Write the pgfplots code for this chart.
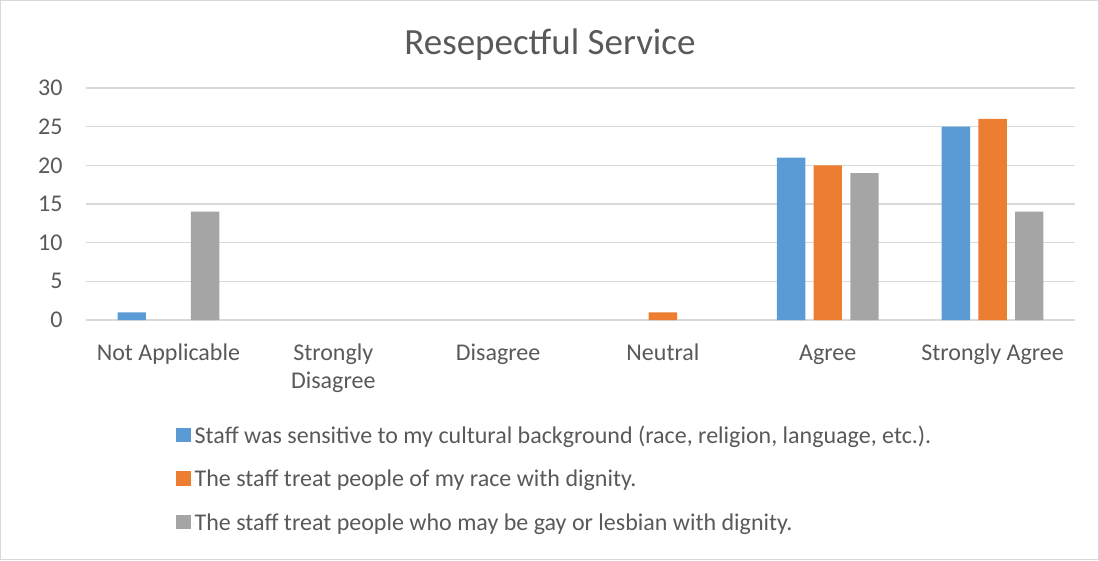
\documentclass[border=0pt]{standalone}
\usepackage{fontspec}
\setmainfont{Carlito}
\usepackage{pgfplots}
\pgfplotsset{compat=1.18}
\definecolor{cblue}{HTML}{5B9BD5}
\definecolor{corange}{HTML}{ED7D31}
\definecolor{cgray}{HTML}{A5A5A5}
\definecolor{gridc}{HTML}{D9D9D9}
\definecolor{txt}{HTML}{595959}
\definecolor{framec}{HTML}{D9D9D9}
\begin{document}
\begin{tikzpicture}
\draw[framec, line width=1pt, use as bounding box] (0.5pt,0.5pt) rectangle (1098.5pt,559.5pt);
\node[txt, font=\fontsize{37}{42}\selectfont] at (550pt,515pt) {Resepectful Service};
\begin{axis}[
  at={(86pt,240pt)}, anchor=south west,
  scale only axis, width=989pt, height=232pt,
  ybar=8.3pt, bar width=28.4pt,
  xmin=-0.5, xmax=5.5, ymin=0, ymax=30,
  ytick={0,5,...,30},
  xtick={0,1,2,3,4,5},
  xticklabels={\strut Not Applicable, \strut Strongly\\\strut Disagree, \strut Disagree, \strut Neutral, \strut Agree, \strut Strongly Agree},
  xticklabel style={align=center, txt, font=\fontsize{24}{28}\selectfont, yshift=-17pt},
  yticklabel style={txt, font=\fontsize{24}{28}\selectfont, xshift=-20pt},
  /pgf/number format/assume math mode=true,
  major tick length=0pt,
  axis line style={draw=none},
  ymajorgrids, xmajorgrids=false, grid style={gridc, line width=1.3pt},
  legend style={at={(0.091,-0.457)}, anchor=north west, draw=none, fill=none,
    font=\fontsize{24}{28}\selectfont, text=txt, row sep=21.5pt,
    nodes={inner sep=0pt, text height=17pt, text depth=5pt},
    cells={anchor=west}, inner sep=0pt},
  legend image code/.code={\fill[#1, draw=none] (0pt,-5.25pt) rectangle (14.5pt,9.25pt); \path (0pt,0pt) -- (18.5pt,0pt);},
  legend cell align=left,
]
\addplot[fill=cblue, draw=none] coordinates {(0,1) (4,21) (5,25)};
\addplot[fill=corange, draw=none] coordinates {(3,1) (4,20) (5,26)};
\addplot[fill=cgray, draw=none] coordinates {(0,14) (4,19) (5,14)};
\legend{Staff was sensitive to my cultural background (race{,} religion{,} language{,} etc.).,
The staff treat people of my race with dignity.,
The staff treat people who may be gay or lesbian with dignity.}
\end{axis}
\end{tikzpicture}
\end{document}
